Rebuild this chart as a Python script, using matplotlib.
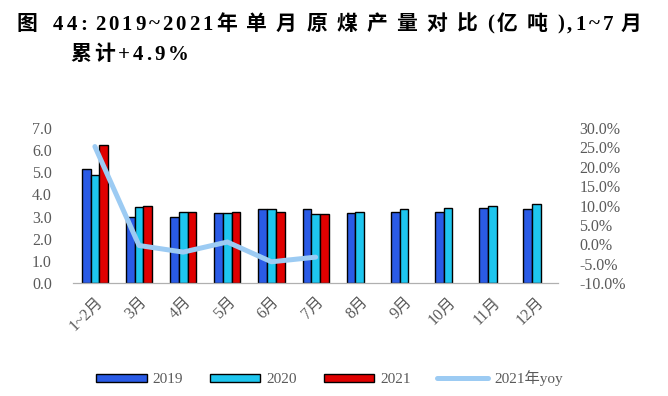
import matplotlib

matplotlib.use("Agg")
import matplotlib.pyplot as plt
import numpy as np
from matplotlib.lines import Line2D
from matplotlib.patches import Patch
from matplotlib.ticker import FuncFormatter

plt.rcParams["font.family"] = ["Liberation Serif", "Noto Sans CJK SC"]

# monthly raw coal output (亿吨)
months = ["1~2月", "3月", "4月", "5月", "6月", "7月", "8月", "9月", "10月", "11月", "12月"]
out_2019 = [5.16, 2.97, 3.00, 3.15, 3.33, 3.33, 3.15, 3.23, 3.23, 3.41, 3.33]
out_2020 = [4.89, 3.42, 3.23, 3.15, 3.33, 3.12, 3.23, 3.33, 3.41, 3.50, 3.57]
out_2021 = [6.21, 3.50, 3.23, 3.23, 3.23, 3.13, np.nan, np.nan, np.nan, np.nan, np.nan]
yoy_2021 = [25.2, -0.3, -2.0, 0.6, -4.5, -3.3]  # %, Jan-Jul only

title_fig = "图"
title_1 = "44: 2019~2021年单月原煤产量对比(亿吨),1~7 月"
title_2 = "累计+4.9%"

C19, C20, C21, CYOY = "#2a5be6", "#1ec6ef", "#e00000", "#9ccbf3"
GREY = "#5a5a5a"
W_PX = 668


def tracked_text(fig, x_px, y, s, size, ascii_gap=1.2, cjk_gap=7.0, space=5.0):
    """lay out a string char by char with extra tracking (the source uses wide letter spacing)."""
    r = fig.canvas.get_renderer()
    for ch in s:
        if ch == " ":
            x_px += space
            continue
        t = fig.text(x_px / W_PX, y, ch, fontsize=size, fontweight="bold", va="baseline")
        if ord(ch) > 0x2e80:
            x_px += size * 100 / 72 + cjk_gap
        else:
            x_px += t.get_window_extent(r).width + ascii_gap


fig = plt.figure(figsize=(6.68, 3.96), dpi=100)
ax = fig.add_axes([0.109, 0.285, 0.727, 0.392])
ax2 = ax.twinx()

x = np.arange(len(months))
w = 0.197
kw = dict(width=w, edgecolor="black", linewidth=1.0, zorder=2)
ax.bar(x - w, out_2019, color=C19, **kw)
ax.bar(x, out_2020, color=C20, **kw)
ax.bar(x + w, out_2021, color=C21, **kw)
ax2.plot(x[: len(yoy_2021)], yoy_2021, color=CYOY, lw=3.6, solid_capstyle="round", zorder=3)

ax.set_xlim(-0.5, len(months) - 0.5)
ax.set_ylim(0, 7)
ax.set_yticks(np.arange(0, 7.01, 1))
ax.yaxis.set_major_formatter(FuncFormatter(lambda v, _: f"{v:.1f}"))
ax2.set_ylim(-10, 30)
ax2.set_yticks(np.arange(-10, 30.01, 5))
ax2.yaxis.set_major_formatter(FuncFormatter(lambda v, _: f"{v:.1f}%"))

ax.set_xticks(x)
ax.set_xticklabels(months, rotation=45, ha="right", rotation_mode="anchor")

for a in (ax, ax2):
    for s in ("top", "left", "right"):
        a.spines[s].set_visible(False)
    a.spines["bottom"].set_color("#b0b0b0")
    a.tick_params(length=0, labelsize=11.5, colors=GREY)
ax.tick_params(axis="x", pad=8)
ax.tick_params(axis="y", pad=15)
ax2.tick_params(axis="y", pad=15)

handles = [
    Patch(facecolor=C19, edgecolor="black", linewidth=1.0),
    Patch(facecolor=C20, edgecolor="black", linewidth=1.0),
    Patch(facecolor=C21, edgecolor="black", linewidth=1.0),
    Line2D([], [], color=CYOY, lw=3.6, solid_capstyle="round"),
]
leg = fig.legend(handles, ["2019", "2020", "2021", "2021年yoy"], loc="center",
                 bbox_to_anchor=(0.493, 0.045), ncol=4, frameon=False,
                 handlelength=3.3, handleheight=0.45, columnspacing=1.75,
                 handletextpad=0.4, fontsize=11)
for t in leg.get_texts():
    t.set_color(GREY)

tracked_text(fig, 17, 0.925, title_fig, 15)
tracked_text(fig, 53, 0.925, title_1, 15, ascii_gap=3.0, cjk_gap=9.3)
tracked_text(fig, 70, 0.848, title_2, 15, ascii_gap=3.0, cjk_gap=3.0)

fig.savefig("out.png", dpi=100)
